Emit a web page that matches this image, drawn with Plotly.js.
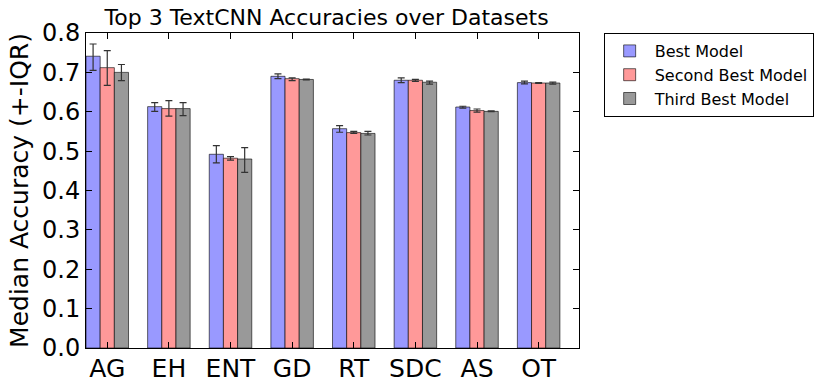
<!DOCTYPE html>
<html>
<head>
<meta charset="utf-8">
<script src="https://cdn.plot.ly/plotly-3.0.1.min.js"></script>
<style>
  html, body { margin: 0; padding: 0; background: #fff; }
  #chart { width: 831px; height: 388px; }
</style>
</head>
<body>
<div id="chart"></div>
<script>
// datasets on the x axis
var datasets = ['AG', 'EH', 'ENT', 'GD', 'RT', 'SDC', 'AS', 'OT'];

// median accuracy per model rank
var bestMedian   = [0.741, 0.613, 0.492, 0.690, 0.557, 0.680, 0.612, 0.674];
var secondMedian = [0.712, 0.608, 0.482, 0.684, 0.547, 0.680, 0.603, 0.673];
var thirdMedian  = [0.700, 0.608, 0.480, 0.682, 0.545, 0.675, 0.601, 0.673];

// IQR error bars (distance above / below the median)
var bestUp    = [0.031, 0.010, 0.022, 0.006, 0.008, 0.006, 0.002, 0.004];
var bestDown  = [0.036, 0.012, 0.022, 0.006, 0.009, 0.006, 0.003, 0.003];
var secondUp  = [0.043, 0.020, 0.004, 0.002, 0.003, 0.002, 0.004, 0.001];
var secondDown= [0.045, 0.019, 0.005, 0.005, 0.002, 0.003, 0.004, 0.001];
var thirdUp   = [0.020, 0.015, 0.029, 0.001, 0.005, 0.003, 0.001, 0.002];
var thirdDown = [0.021, 0.018, 0.034, 0.001, 0.004, 0.005, 0.001, 0.003];

function errBars(up, down) {
  return {
    type: 'data', symmetric: false, array: up, arrayminus: down,
    color: '#333333', thickness: 1.2, width: 3.5
  };
}

var edge = { color: 'rgba(0,0,0,0.6)', width: 1 };

var trace1 = {
  type: 'bar', name: 'Best Model',
  x: datasets, y: bestMedian,
  marker: { color: '#9999ff', line: edge },
  error_y: errBars(bestUp, bestDown)
};
var trace2 = {
  type: 'bar', name: 'Second Best Model',
  x: datasets, y: secondMedian,
  marker: { color: '#ff9999', line: edge },
  error_y: errBars(secondUp, secondDown)
};
var trace3 = {
  type: 'bar', name: 'Third Best Model',
  x: datasets, y: thirdMedian,
  marker: { color: '#999999', line: edge },
  error_y: errBars(thirdUp, thirdDown)
};

var data = [trace1, trace2, trace3];

var layout = {
  width: 831,
  height: 388,
  font: { family: 'DejaVu Sans', color: '#000' },
  title: {
    text: 'Top 3 TextCNN Accuracies over Datasets',
    font: { size: 22 },
    x: 0.393, xanchor: 'center',
    y: 0.955, yanchor: 'middle'
  },
  barmode: 'group',
  bargap: 0.31,
  bargroupgap: 0,
  showlegend: true,
  legend: {
    x: 1.05, y: 1.0, xanchor: 'left', yanchor: 'top',
    bordercolor: '#000', borderwidth: 1,
    font: { size: 16 },
    itemwidth: 40,
    tracegroupgap: 2
  },
  xaxis: {
    type: 'category',
    range: [-0.345, 7.655],
    ticks: 'inside', ticklen: 6, tickcolor: '#000',
    showline: true, linecolor: '#000', linewidth: 1, mirror: 'ticks',
    tickfont: { size: 25 },
    ticklabelstandoff: -2,
    showgrid: false
  },
  yaxis: {
    title: { text: 'Median Accuracy (+-IQR)', font: { size: 25 }, standoff: 6 },
    range: [0, 0.8],
    dtick: 0.1, tickformat: '.1f',
    ticks: 'inside', ticklen: 6, tickcolor: '#000',
    showline: true, linecolor: '#000', linewidth: 1, mirror: 'ticks',
    tickfont: { size: 24 },
    showgrid: false, zeroline: false
  },
  margin: { l: 86, r: 252, t: 33, b: 40, pad: 0 },
  plot_bgcolor: '#fff',
  paper_bgcolor: '#fff'
};

Plotly.newPlot('chart', data, layout, { displayModeBar: false, staticPlot: true });
</script>
</body>
</html>
